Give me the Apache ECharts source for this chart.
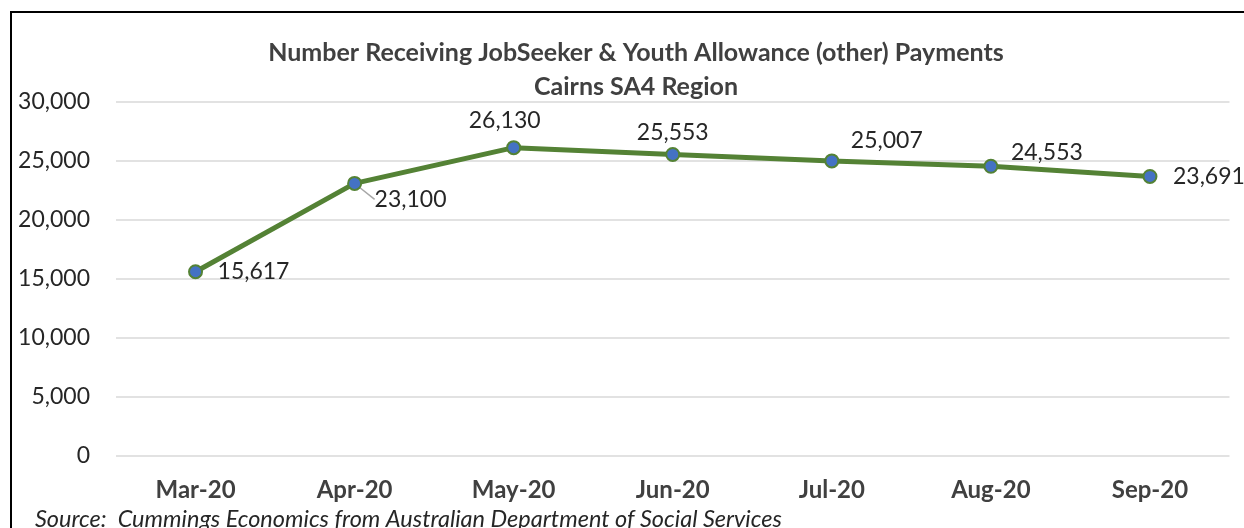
<!DOCTYPE html>
<html><head><meta charset="utf-8">
<script src="https://cdn.jsdelivr.net/npm/echarts@6/dist/echarts.min.js"></script>
<style>html,body{margin:0;padding:0;background:#fff}#c{width:1244px;height:528px}</style>
</head><body><div id="c"></div>
<script>
const categories = ['Mar-20','Apr-20','May-20','Jun-20','Jul-20','Aug-20','Sep-20'];
const values = [15617, 23100, 26130, 25553, 25007, 24553, 23691];
const yTicks = [0, 5000, 10000, 15000, 20000, 25000, 30000];
const titleText = 'Number Receiving JobSeeker & Youth Allowance (other) Payments\nCairns SA4 Region';
const sourceText = 'Source:  Cummings Economics from Australian Department of Social Services';

const FONT = 'Lato, "Open Sans", sans-serif';
const labelOffsets = [[22,0,'left'],[20,16,'left'],[-9,-27,'center'],[0,-22,'center'],[55,-20,'center'],[56,-14,'center'],[23,0,'left']];

const chart = echarts.init(document.getElementById('c'));
chart.setOption({
  animation: false,
  title: {
    text: titleText, left: 631, top: 31, textAlign: 'center',
    textStyle: {fontFamily: FONT, fontWeight: 'bold', fontSize: 25, color: '#404040', lineHeight: 34}
  },
  grid: {left: 116, right: 14.5, top: 102, bottom: 72},
  xAxis: {
    type: 'category', data: categories, boundaryGap: true,
    axisLine: {show: false}, axisTick: {show: false},
    axisLabel: {fontFamily: FONT, fontWeight: 'bold', fontSize: 24, color: '#404040', margin: 22}
  },
  yAxis: {
    type: 'value', min: yTicks[0], max: yTicks[yTicks.length-1], interval: yTicks[1]-yTicks[0],
    axisLine: {show: false}, axisTick: {show: false},
    splitLine: {lineStyle: {color: '#d9d9d9', width: 1.5}},
    axisLabel: {fontFamily: FONT, fontSize: 23, color: '#262626', margin: 26,
      formatter: v => v.toLocaleString('en-US')}
  },
  series: [{
    type: 'line', data: values,
    symbol: 'circle', symbolSize: 13,
    lineStyle: {color: '#548235', width: 5},
    itemStyle: {color: '#4472C4', borderColor: '#548235', borderWidth: 2},
    label: {show: true, position: 'inside', fontFamily: FONT, fontSize: 23, color: '#262626',
      formatter: p => p.value.toLocaleString('en-US')},
    labelLayout: p => {
      const o = labelOffsets[p.dataIndex];
      const r = p.labelRect;
      const cx = p.rect.x + p.rect.width/2, cy = p.rect.y + p.rect.height/2;
      let x = cx + o[0];
      if (o[2] === 'left') x = cx + o[0] + r.width/2;
      return {x: x, y: cy + o[1], align: 'center', verticalAlign: 'middle'};
    },
    labelLine: {show: false},
    data: values.map((v, i) => i === 1 ? {value: v, labelLine: {show: true, lineStyle: {color: '#a6a6a6', width: 1.5}}} : v)
  }],
  graphic: [
    {type: 'rect', shape: {x: 11, y: 12, width: 1300, height: 600}, style: {fill: 'none', stroke: '#000', lineWidth: 2}, silent: true},
    {type: 'text', left: 35, top: 508, style: {text: sourceText, fontFamily: FONT, fontStyle: 'italic', fontSize: 23.5, fill: '#262626'}}
  ]
});
</script></body></html>
